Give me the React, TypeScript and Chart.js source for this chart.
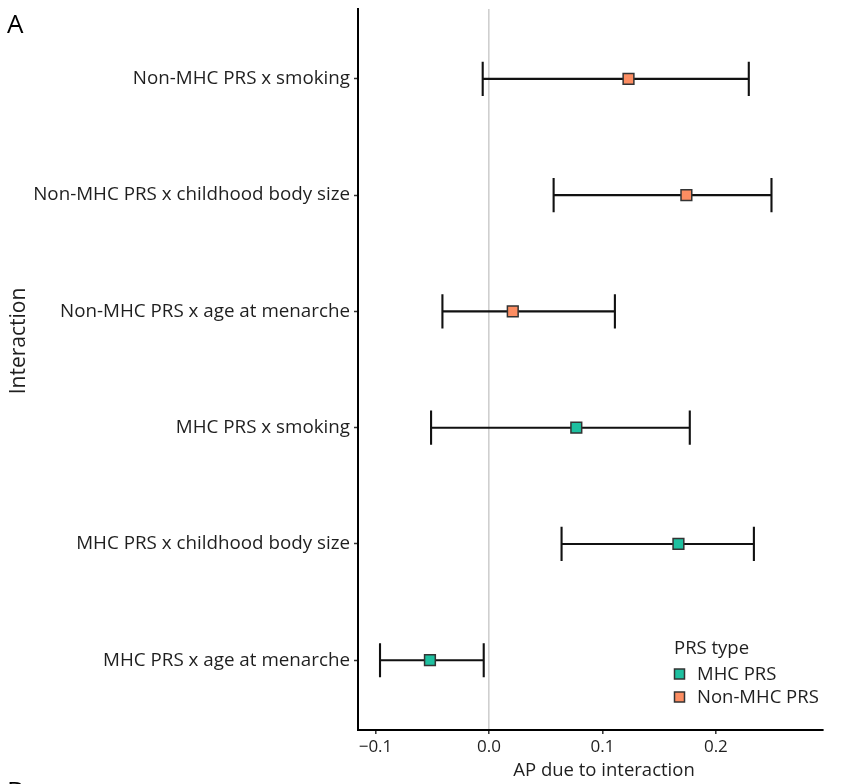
import React, { useEffect, useRef } from "react";
import { Chart, registerables } from "chart.js";
Chart.register(...registerables);

const interactions = [
  "Non-MHC PRS x smoking",
  "Non-MHC PRS x childhood body size",
  "Non-MHC PRS x age at menarche",
  "MHC PRS x smoking",
  "MHC PRS x childhood body size",
  "MHC PRS x age at menarche",
];
const prsType = ["Non-MHC PRS", "Non-MHC PRS", "Non-MHC PRS", "MHC PRS", "MHC PRS", "MHC PRS"];
const estimate = [0.123, 0.174, 0.021, 0.077, 0.167, -0.052];
const lower = [-0.0055, 0.057, -0.041, -0.051, 0.064, -0.096];
const upper = [0.229, 0.249, 0.111, 0.177, 0.2335, -0.0046];
const groups = ["MHC PRS", "Non-MHC PRS"];
const groupColors = ["#1EC0A0", "#FC8D62"];
const xTicks = [-0.1, 0, 0.1, 0.2];

const FONT = "'Open Sans', 'Noto Sans', sans-serif";
const TEXT = "#1f1f1f";

const errorBars = {
  id: "errorBars",
  beforeDatasetsDraw(chart: any) {
    const { ctx, scales } = chart;
    const x = scales.x;
    const y = scales.y;
    ctx.save();
    ctx.strokeStyle = "#111";
    ctx.lineWidth = 2.1;
    interactions.forEach((_, i) => {
      const yp = y.getPixelForValue(i);
      const ya = y.getPixelForValue(i - 0.147);
      const yb = y.getPixelForValue(i + 0.147);
      const x0 = x.getPixelForValue(lower[i]);
      const x1 = x.getPixelForValue(upper[i]);
      ctx.beginPath();
      ctx.moveTo(x0, yp);
      ctx.lineTo(x1, yp);
      ctx.moveTo(x0, ya);
      ctx.lineTo(x0, yb);
      ctx.moveTo(x1, ya);
      ctx.lineTo(x1, yb);
      ctx.stroke();
    });
    ctx.restore();
  },
};

const annotations = {
  id: "annotations",
  afterDraw(chart: any) {
    const { ctx } = chart;
    ctx.save();
    ctx.fillStyle = "#000";
    ctx.font = `26px ${FONT}`;
    ctx.textAlign = "left";
    ctx.textBaseline = "alphabetic";
    ctx.fillText("A", 7, 33);
    ctx.fillText("B", 7, 800);

    ctx.fillStyle = TEXT;
    ctx.font = `18.5px ${FONT}`;
    ctx.textAlign = "center";
    ctx.textBaseline = "middle";
    ctx.fillText("AP due to interaction", 604, 771);

    ctx.save();
    ctx.font = `21px ${FONT}`;
    ctx.translate(19, 341);
    ctx.rotate(-Math.PI / 2);
    ctx.fillText("Interaction", 0, 0);
    ctx.restore();

    // legend
    ctx.textAlign = "left";
    ctx.textBaseline = "alphabetic";
    ctx.font = `18.5px ${FONT}`;
    ctx.fillText("PRS type", 674, 654);
    chart.data.datasets.forEach((ds: any, k: number) => {
      const cy = 674 + k * 23;
      ctx.fillStyle = ds.backgroundColor;
      ctx.strokeStyle = "#333";
      ctx.lineWidth = 1.5;
      ctx.fillRect(674.5, cy - 5, 10, 10);
      ctx.strokeRect(674.5, cy - 5, 10, 10);
      ctx.fillStyle = TEXT;
      ctx.textBaseline = "middle";
      ctx.fillText(ds.label, 697, cy + 1);
    });
    ctx.restore();
  },
};

export default function App() {
  const ref = useRef<HTMLCanvasElement | null>(null);
  useEffect(() => {
    if (!ref.current) return;
    const datasets = groups.map((g, gi) => ({
      label: g,
      data: interactions
        .map((_, i) => ({ x: estimate[i], y: i, t: prsType[i] }))
        .filter((d) => d.t === g)
        .map((d) => ({ x: d.x, y: d.y })),
      backgroundColor: groupColors[gi],
      borderColor: "#333",
      borderWidth: 1.5,
      pointStyle: "rect",
      pointRadius: 7.6,
      pointHoverRadius: 7.6,
    }));
    const chart = new Chart(ref.current, {
      type: "scatter",
      data: { datasets },
      plugins: [errorBars, annotations],
      options: {
        animation: false,
        responsive: false,
        events: [],
        layout: { padding: { left: 0, right: 33, top: 8, bottom: 0 } },
        plugins: { legend: { display: false }, tooltip: { enabled: false } },
        scales: {
          x: {
            type: "linear",
            min: -0.1154,
            max: 0.2944,
            afterBuildTicks: (s: any) => {
              s.ticks = xTicks.map((v) => ({ value: v }));
            },
            afterFit: (s: any) => {
              s.height = 54;
              s.paddingLeft = 0;
              s.paddingRight = 0;
            },
            ticks: {
              padding: 3,
              color: TEXT,
              font: { family: FONT, size: 17 },
              callback: (v: any) => {
                const n = Number(v);
                const s = Math.abs(n).toFixed(1);
                return n < 0 ? "\u2212" + s : s;
              },
            },
            grid: {
              drawOnChartArea: true,
              color: (c: any) => (c.tick && c.tick.value === 0 ? "#cfcfcf" : "rgba(0,0,0,0)"),
              lineWidth: 1.6,
              tickColor: "#333",
              tickLength: 4,
              tickWidth: 1.5,
            },
            border: { display: true, color: "#000", width: 2 },
          },
          y: {
            type: "linear",
            reverse: true,
            min: -0.6,
            max: 5.6,
            afterBuildTicks: (s: any) => {
              s.ticks = interactions.map((_, i) => ({ value: i }));
            },
            afterFit: (s: any) => {
              s.width = 358;
              s.paddingTop = 0;
              s.paddingBottom = 0;
            },
            ticks: {
              padding: 4,
              color: TEXT,
              font: { family: FONT, size: 18.8 },
              callback: (v: any) => interactions[Number(v)] ?? "",
            },
            grid: {
              drawOnChartArea: false,
              color: "rgba(0,0,0,0)",
              tickColor: "#333",
              tickLength: 4,
              tickWidth: 1.5,
            },
            border: { display: true, color: "#000", width: 2 },
          },
        },
      },
    });
    return () => chart.destroy();
  }, []);
  return (
    <div style={{ position: "fixed", left: 0, top: 0, width: 856, height: 784, background: "#fff" }}>
      <canvas ref={ref} width={856} height={784} style={{ width: 856, height: 784, display: "block" }} />
    </div>
  );
}
